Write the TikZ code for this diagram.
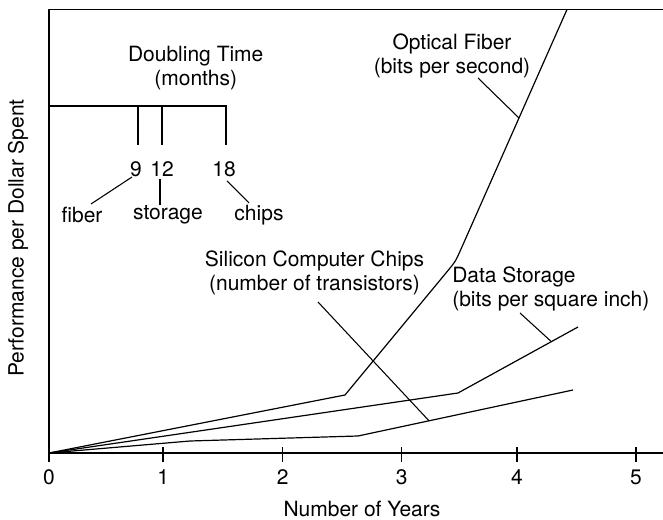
\documentclass[tikz,border=0pt]{standalone}
\usepackage{fontspec}
\setmainfont{TeX Gyre Heros}
\usepackage{tikz}

\begin{document}
\begin{tikzpicture}[line join=bevel,
  lbl/.style={inner sep=0pt,font=\fontsize{15.75bp}{18bp}\selectfont,align=center},
  curve/.style={line width=0.9bp},
  axis/.style={line width=1.1bp},
  ptr/.style={line width=0.8bp}]
\useasboundingbox (0bp,0bp) rectangle (497.25bp,390bp);
%%
\coordinate (orig) at (36.75bp,50.25bp);
  \coordinate (ytop) at (36.75bp,382.9bp);
  \coordinate (topR) at (497.25bp,382.9bp);
  \coordinate (xR) at (497.25bp,50.25bp);
  \draw [axis] (topR) -- (ytop) -- (orig) -- (xR);
  \draw [axis] (36.75bp,43.5bp) -- (36.75bp,54.75bp);
  \draw [axis] (122.4bp,43.5bp) -- (122.4bp,54.75bp);
  \draw [axis] (211.95bp,43.5bp) -- (211.95bp,54.75bp);
  \draw [axis] (301.2bp,43.5bp) -- (301.2bp,54.75bp);
  \draw [axis] (387.75bp,43.5bp) -- (387.75bp,54.75bp);
  \draw [axis] (477.0bp,43.5bp) -- (477.0bp,54.75bp);
  \node (n0) at (36.75bp,32.25bp) [lbl] {0};
  \node (n1) at (122.4bp,32.25bp) [lbl] {1};
  \node (n2) at (211.95bp,32.25bp) [lbl] {2};
  \node (n3) at (301.2bp,32.25bp) [lbl] {3};
  \node (n4) at (387.75bp,32.25bp) [lbl] {4};
  \node (n5) at (477.0bp,32.25bp) [lbl] {5};
  \node (xlabel) at (271.5bp,8.25bp) [lbl] {Number of Years};
  \node (ylabel) at (13.5bp,211.5bp) [lbl,rotate=90] {Performance per Dollar Spent};
%% doubling time key
  \node (dtitle) at (146.8bp,339.0bp) [lbl] {Doubling Time\\(months)};
  \coordinate (keyL) at (36.75bp,310.5bp);
  \coordinate (keyR) at (170.25bp,310.5bp);
  \draw [axis] (keyL) -- (keyR);
  \draw [curve] (103.5bp,310.5bp) -- (103.5bp,281.25bp);
  \draw [curve] (121.5bp,310.5bp) -- (121.5bp,281.25bp);
  \draw [curve] (169.5bp,310.5bp) -- (169.5bp,281.25bp);
  \node (m9) at (102.0bp,263.25bp) [lbl] {9};
  \node (m12) at (121.5bp,263.25bp) [lbl] {12};
  \node (m18) at (168.0bp,263.25bp) [lbl] {18};
  \node (kfiber) at (61.5bp,228.75bp) [lbl] {fiber};
  \node (kstorage) at (126.0bp,228.75bp) [lbl] {storage};
  \node (kchips) at (194.25bp,228.75bp) [lbl] {chips};
  \draw [ptr] (99.0bp,257.25bp) -- (68.25bp,237.0bp);
  \draw [ptr] (120.0bp,255.75bp) -- (120.0bp,236.25bp);
  \draw [ptr] (170.25bp,254.25bp) -- (186.75bp,237.75bp);
%% curves
  \coordinate (fibA) at (258.75bp,93.75bp);
  \coordinate (fibB) at (336.0bp,187.1bp);
  \coordinate (fibK) at (341.6bp,193.95bp);
  \coordinate (fibC) at (345.0bp,201.5bp);
  \coordinate (fibTop) at (425.25bp,382.9bp);
  \draw [curve] (orig) -- (fibA) -- (fibB) .. controls (fibK) .. (fibC) -- (fibTop);
  \coordinate (stoA) at (343.5bp,95.25bp);
  \coordinate (stoEnd) at (433.5bp,144.75bp);
  \draw [curve] (orig) -- (stoA) -- (stoEnd);
  \coordinate (chA) at (142.5bp,59.25bp);
  \coordinate (chB) at (268.5bp,63.0bp);
  \coordinate (chEnd) at (429.75bp,97.5bp);
  \draw [curve] (orig) -- (chA) -- (chB) -- (chEnd);
%% labels
  \node (fiber) at (339.0bp,348.0bp) [lbl] {Optical Fiber\\(bits per second)};
  \coordinate (fibP) at (358.5bp,331.5bp);
  \coordinate (fibT) at (389.25bp,301.5bp);
  \draw [ptr] (fibP) -- (fibT);
  \node (storage) at (339.0bp,173.6bp) [lbl,anchor=west,align=left] {Data Storage\\(bits per square inch)};
  \coordinate (stoP) at (390.0bp,155.25bp);
  \coordinate (stoT) at (413.25bp,134.0bp);
  \draw [ptr] (stoP) -- (stoT);
  \node (chips) at (235.9bp,185.6bp) [lbl] {Silicon Computer Chips\\(number of transistors)};
  \coordinate (chP) at (238.5bp,163.5bp);
  \coordinate (chT) at (321.75bp,74.4bp);
  \draw [ptr] (chP) -- (chT);
%
\end{tikzpicture}
\end{document}
